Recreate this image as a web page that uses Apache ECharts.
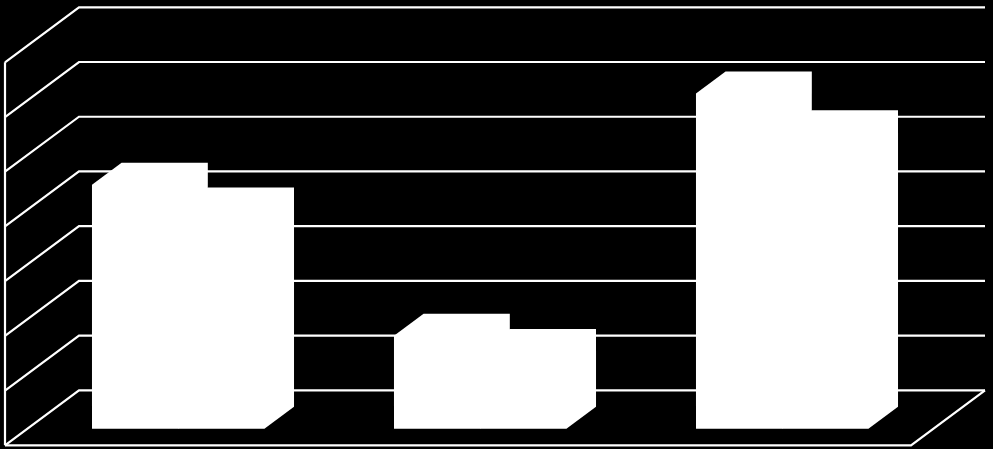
<!DOCTYPE html>
<html>
<head>
<meta charset="utf-8">
<style>html,body{margin:0;padding:0;background:#000}#c{width:993px;height:449px}</style>
<script src="https://cdn.jsdelivr.net/npm/echarts@6/dist/echarts.min.js"></script>
</head>
<body>
<div id="c"></div>
<script>
const categories = ['A', 'B', 'C'];
const seriesOne = [4.46, 1.70, 6.13];
const seriesTwo = [4.01, 1.42, 5.42];
const valueTicks = [0, 1, 2, 3, 4, 5, 6, 7];

const DEPTH_X = 74, DEPTH_Y = 55;            // full floor depth, in pixels
const BAR_NEAR = 0.3, BAR_FAR = 0.7;         // bar depth span as a fraction of the floor
const BAR_FRACTION = 0.2855;                 // one bar as a share of a category band
const LINE = { stroke: '#fff', fill: null, lineWidth: 2.2 };

function renderWall(params, api) {
  const cs = params.coordSys;
  const tick = api.value(0);
  const y = api.coord([0, tick])[1];
  const x0 = cs.x, x1 = cs.x + cs.width;
  const children = [{
    type: 'polyline',
    shape: { points: [[x0, y], [x0 + DEPTH_X, y - DEPTH_Y], [x1 + DEPTH_X, y - DEPTH_Y]] },
    style: LINE
  }];
  if (tick === valueTicks[0]) {
    children.push({
      type: 'polyline',
      shape: { points: [[x0, y], [x1, y], [x1 + DEPTH_X, y - DEPTH_Y]] },
      style: LINE
    });
    children.push({
      type: 'line',
      shape: {
        x1: x0, y1: y, x2: x0,
        y2: api.coord([0, valueTicks[valueTicks.length - 1]])[1]
      },
      style: LINE
    });
  }
  return { type: 'group', children };
}

function barRenderer(slot) {
  return function (params, api) {
    const i = api.value(0);
    const top = api.coord([i, api.value(1)]);
    const base = api.coord([i, 0]);
    const w = api.size([1, 0])[0] * BAR_FRACTION;
    const nx = BAR_NEAR * DEPTH_X, ny = BAR_NEAR * DEPTH_Y;
    const dx = (BAR_FAR - BAR_NEAR) * DEPTH_X, dy = (BAR_FAR - BAR_NEAR) * DEPTH_Y;
    const l = top[0] + nx + slot * w, r = l + w;
    const t = top[1] - ny, b = base[1] - ny;
    return {
      type: 'polygon',
      shape: { points: [
        [l, b], [l, t], [l + dx, t - dy], [r + dx, t - dy], [r + dx, b - dy], [r, b]
      ] },
      style: { fill: '#fff', stroke: null }
    };
  };
}

const chart = echarts.init(document.getElementById('c'), null, { renderer: 'canvas' });
chart.setOption({
  backgroundColor: '#000',
  animation: false,
  grid: { left: 5, width: 906, top: 62.3, height: 383 },
  xAxis: {
    type: 'category', data: categories,
    axisLine: { show: false }, axisTick: { show: false }, axisLabel: { show: false }
  },
  yAxis: {
    type: 'value', min: 0, max: 7, interval: 1,
    axisLine: { show: false }, axisTick: { show: false }, axisLabel: { show: false },
    splitLine: { show: false }
  },
  series: [
    {
      type: 'custom', z: 1, renderItem: renderWall,
      data: valueTicks.map(v => [v]), encode: { y: 0 }, silent: true
    },
    {
      type: 'custom', z: 2, renderItem: barRenderer(-1),
      data: seriesOne.map((v, i) => [i, v]), encode: { x: 0, y: 1 }, silent: true
    },
    {
      type: 'custom', z: 3, renderItem: barRenderer(0),
      data: seriesTwo.map((v, i) => [i, v]), encode: { x: 0, y: 1 }, silent: true
    }
  ]
});
</script>
</body>
</html>
